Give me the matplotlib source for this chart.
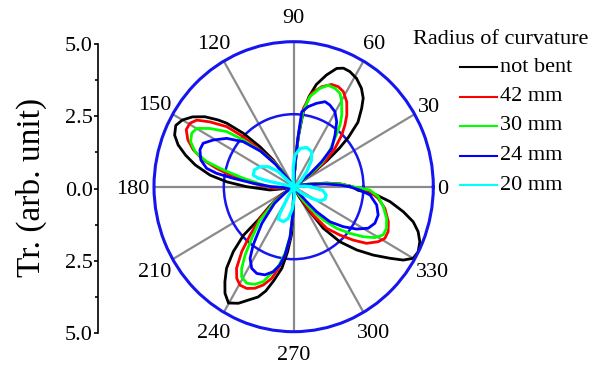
import numpy as np
import matplotlib
matplotlib.use('Agg')
import matplotlib.pyplot as plt

plt.rcParams['font.family'] = ['Liberation Serif', 'DejaVu Serif']

# ---------------- data (angle in degrees, transmission) ----------------
series_names = ['not bent', '42 mm', '30 mm', '24 mm', '20 mm']
series_colors = ['#000000', '#ff0000', '#00ff00', '#0000ff', '#00ffff']

not_bent = [(0, 2.1), (3, 1.7), (6, 1.2), (10, 0.5), (15, 0.1), (22, 0.05), (28, 0.1), (32, 0.3),
            (35, 0.9), (37, 1.5), (39, 2.1), (41, 2.6), (44, 3.2), (48, 3.64), (50.8, 3.94),
            (54.4, 4.17), (58.9, 4.36), (63.1, 4.45), (66.4, 4.46), (69.3, 4.36), (73, 4.03),
            (77, 3.62), (80, 3.15), (82.5, 2.55), (84.5, 1.7), (85.5, 1.0), (87, 0.3), (95, 0.05),
            (110, 0.05), (120, 0.05), (126, 0.3), (128.4, 1.17), (131.2, 1.83), (134.4, 2.58),
            (137.6, 3.25), (139.6, 3.55), (142.8, 3.99), (146.4, 4.35), (150, 4.6), (153.4, 4.72),
            (157.3, 4.62), (160.8, 4.38), (164.3, 4.02), (168, 3.6), (172.4, 3.02), (176, 2.4),
            (180, 1.68), (187.6, 0.86), (192, 0.3), (200, 0.05), (208, 0.1), (212, 0.5), (218, 1.1),
            (222, 1.7), (223, 2.46), (226, 3.11), (229.5, 3.70), (233.1, 4.10), (236.2, 4.42),
            (239.8, 4.64), (243.8, 4.48), (247.5, 4.23), (251.5, 4.01), (254.5, 3.73), (257.5, 3.33),
            (261.5, 2.84), (264.5, 2.25), (267.3, 1.67), (269, 0.8), (271, 0.2), (280, 0.05),
            (290, 0.05), (296, 0.1), (300, 0.46), (304, 1.04), (306.5, 1.78), (311.1, 2.52),
            (316, 3.14), (320.4, 3.70), (324.4, 4.24), (327.2, 4.67), (330, 4.94), (333.3, 4.99),
            (337.2, 4.90), (340.8, 4.72), (344.2, 4.45), (347.6, 4.02), (351.5, 3.49), (354.5, 2.98),
            (357, 2.3)]

r42mm = [(0, 2.1), (3, 1.7), (6, 1.1), (10, 0.4), (15, 0.1), (22, 0.05), (28, 0.1), (31, 0.2),
         (34, 0.7), (37.6, 1.41), (41.8, 1.98), (46, 2.48), (49.2, 2.81), (52.4, 3.12), (57, 3.49),
         (61.5, 3.73), (65.1, 3.80), (68.9, 3.78), (73.8, 3.59), (78.7, 3.28), (82.7, 2.72),
         (84.5, 1.8), (85.5, 1.0), (87, 0.3), (95, 0.05), (110, 0.05), (120, 0.05), (126, 0.3),
         (129, 1.1), (133.6, 1.75), (136.3, 2.49), (139.2, 3.17), (143.3, 3.74), (146.5, 4.16),
         (149.5, 4.31), (152.9, 4.32), (156.9, 4.12), (160.5, 3.81), (164.1, 3.37), (167.1, 2.83),
         (171, 2.19), (175.3, 1.45), (184.6, 0.73), (190, 0.25), (200, 0.05), (211, 0.3),
         (216, 0.8), (222, 1.6), (226.9, 2.28), (230.3, 2.91), (234, 3.48), (237.2, 3.76),
         (240.5, 3.90), (244.4, 3.89), (248.3, 3.77), (252.2, 3.56), (256, 3.26), (259, 2.87),
         (262.5, 2.38), (265.8, 1.79), (268, 1.0), (270, 0.2), (280, 0.05), (290, 0.05), (297, 0.1),
         (300, 0.15), (303.5, 0.62), (305.6, 1.20), (309.5, 1.86), (314.8, 2.35), (319.2, 2.82),
         (323.2, 3.26), (327.9, 3.57), (331.4, 3.72), (335.4, 3.72), (340.4, 3.60), (347.1, 3.35),
         (352.5, 3.05), (356.4, 2.74), (358.5, 2.25)]

r30mm = [(0, 2.1), (3, 1.7), (6, 1.1), (10, 0.4), (15, 0.1), (22, 0.05), (28, 0.1), (31, 0.2),
         (35, 0.7), (39, 1.3), (44, 1.8), (48.5, 2.23), (52, 2.70), (55.1, 3.01), (59.6, 3.40),
         (62.7, 3.62), (66.4, 3.70), (70.5, 3.71), (74.5, 3.52), (79.4, 3.16), (82.7, 2.6),
         (84.5, 1.8), (85.5, 1.0), (87, 0.3), (95, 0.05), (110, 0.05), (120, 0.05), (126, 0.3),
         (129, 1.0), (134, 1.7), (138.2, 2.42), (141.6, 3.06), (146.2, 3.61), (149.9, 4.01),
         (153.2, 4.09), (157.2, 4.0), (161.1, 3.73), (164.5, 3.23), (167, 2.59), (170.8, 1.83),
         (178.8, 0.97), (186, 0.35), (200, 0.05), (212, 0.3), (218, 0.9), (224, 1.7), (229.9, 2.33),
         (233.6, 2.93), (236.5, 3.37), (239, 3.62), (243.2, 3.73), (247.6, 3.64), (251.6, 3.45),
         (254.6, 3.14), (258.7, 2.81), (262.5, 2.3), (265.8, 1.7), (268, 1.0), (270, 0.2),
         (280, 0.05), (290, 0.05), (300, 0.1), (305, 0.5), (309, 1.0), (312.7, 1.56), (317, 2.10),
         (321.4, 2.58), (325.3, 3.03), (328.9, 3.40), (332.6, 3.61), (336.7, 3.62), (341.9, 3.50),
         (347.9, 3.28), (353.5, 3.05), (357.6, 2.73)]

r24mm = [(0, 2.0), (2, 1.66), (5, 1.1), (10, 0.4), (15, 0.1), (22, 0.05), (28, 0.1), (33, 0.2),
         (37, 0.7), (40.7, 1.32), (44.2, 1.90), (50.3, 2.32), (55.5, 2.72), (60.3, 2.98),
         (65.3, 3.10), (69, 3.14), (74.1, 2.99), (79.3, 2.81), (83.6, 2.6), (85, 1.6), (86, 0.8),
         (87.5, 0.2), (95, 0.05), (110, 0.05), (120, 0.05), (127, 0.3), (130, 1.0), (134, 1.7),
         (139.3, 2.38), (145.2, 2.92), (150.8, 3.30), (155.2, 3.57), (159.2, 3.59), (164.5, 3.45),
         (168.5, 3.18), (170.5, 2.80), (172.4, 2.18), (175.3, 1.45), (180, 0.8), (186, 0.3),
         (200, 0.05), (213, 0.3), (220, 0.9), (228, 1.7), (234.2, 2.48), (237.7, 2.92),
         (241.9, 3.19), (246.2, 3.27), (251.3, 3.21), (256, 3.02), (259.7, 2.74), (262.5, 2.38),
         (265.8, 1.75), (268, 1.0), (270, 0.2), (280, 0.05), (300, 0.05), (308, 0.2), (312, 0.70),
         (313.6, 1.19), (317.1, 1.78), (322.2, 2.25), (327, 2.68), (331.8, 3.03), (336.6, 3.17),
         (342.1, 3.18), (348, 3.04), (354, 2.75), (357, 2.4)]

r20mm = [(0, 0.6), (3, 0.4), (8, 0.1), (20, 0.05), (35, 0.15), (40, 0.35), (48, 0.70), (55, 1.12),
         (62, 1.37), (71, 1.43), (80, 1.34), (87.5, 1.09), (91, 0.69), (93, 0.3), (96, 0.1),
         (115, 0.05), (130, 0.1), (136.5, 0.76), (142.8, 1.14), (150.3, 1.39), (157.6, 1.52),
         (164.6, 1.50), (167, 1.3), (168, 0.9), (168, 0.45), (170, 0.1), (200, 0.05), (235, 0.1),
         (240, 0.4), (241.5, 0.65), (242, 1.04), (243.9, 1.25), (253, 1.26), (260, 1.11),
         (266, 0.80), (273, 0.40), (278, 0.1), (300, 0.05), (315, 0.1), (322, 0.37), (328, 0.76),
         (332.4, 1.06), (339, 1.2), (346, 1.2), (353, 1.05), (357, 0.75)]

series_data = [not_bent, r42mm, r30mm, r24mm, r20mm]

angle_ticks = [0, 30, 60, 90, 120, 150, 180, 210, 240, 270, 300, 330]
left_ticks = [-5, -2.5, 0, 2.5, 5]
left_ticklabels = ['5.0', '2.5', '0.0', '2.5', '5.0']
left_minor = [-3.75, -1.25, 1.25, 3.75]
legend_title = 'Radius of curvature'
ylabel = 'Tr. (arb. unit)'

# ---------------- layout ----------------
W, H = 604, 365
fig = plt.figure(figsize=(W / 100, H / 100), dpi=100)


def box(x0, y0, x1, y1):
    return [x0 / W, 1 - y1 / H, (x1 - x0) / W, (y1 - y0) / H]


ax = fig.add_axes(box(154, 41.7, 433.3, 331.7), projection='polar')
ax.set_aspect('auto')
ax.set_ylim(0, 5)
ax.set_xticks(np.deg2rad(angle_ticks))
ax.set_xticklabels([])
ax.set_yticks([2.5])
ax.set_yticklabels([])
ax.tick_params(length=0)
ax.xaxis.grid(True, color='#8a8a8a', lw=1.6)
ax.yaxis.grid(True, color='#1515f0', lw=1.8)
ax.spines['polar'].set_color('#1515f0')
ax.spines['polar'].set_linewidth(2.2)
ax.set_facecolor('none')

widths = [2.0, 2.0, 2.0, 2.0, 2.3]
for data, col, lw in zip(series_data, series_colors, widths):
    th = [p[0] for p in data] + [data[0][0]]
    rr = [p[1] for p in data] + [data[0][1]]
    ax.plot(np.deg2rad(th), rr, color=col, lw=lw, solid_joinstyle='round')

label_r = {0: 5.35, 30: 5.6, 90: 5.9}
for a in angle_ticks:
    ax.text(np.deg2rad(a), label_r.get(a, 5.75), str(a), ha='center', va='center_baseline',
            fontsize=16, clip_on=False)

# left linear axis
lax = fig.add_axes(box(98.3, 43.7, 99.0, 333.3))
lax.set_ylim(-5, 5)
lax.set_xlim(0, 1)
for s in ['right', 'top', 'bottom']:
    lax.spines[s].set_visible(False)
lax.spines['left'].set_linewidth(1.2)
lax.set_xticks([])
lax.set_yticks(left_ticks)
lax.set_yticklabels(left_ticklabels, fontsize=16)
lax.set_yticks(left_minor, minor=True)
lax.tick_params(axis='y', which='major', direction='out', length=3, width=1.2, pad=1)
lax.tick_params(axis='y', which='minor', direction='out', length=2.5, width=1.2)
lax.set_facecolor('none')

# overlay in pixel coordinates for legend and y label
oax = fig.add_axes([0, 0, 1, 1])
oax.set_xlim(0, W)
oax.set_ylim(H, 0)
oax.axis('off')
oax.text(31, 187, ylabel, rotation=90, ha='center', va='center', fontsize=24)
oax.text(501, 39, legend_title, ha='center', va='center', fontsize=16)
for i, (name, col) in enumerate(zip(series_names, series_colors)):
    y = 67 + i * 29.5
    oax.plot([460, 497], [y, y], color=col, lw=1.5)
    oax.text(500, y, name, ha='left', va='center', fontsize=16)

fig.savefig('out.png', dpi=100)
